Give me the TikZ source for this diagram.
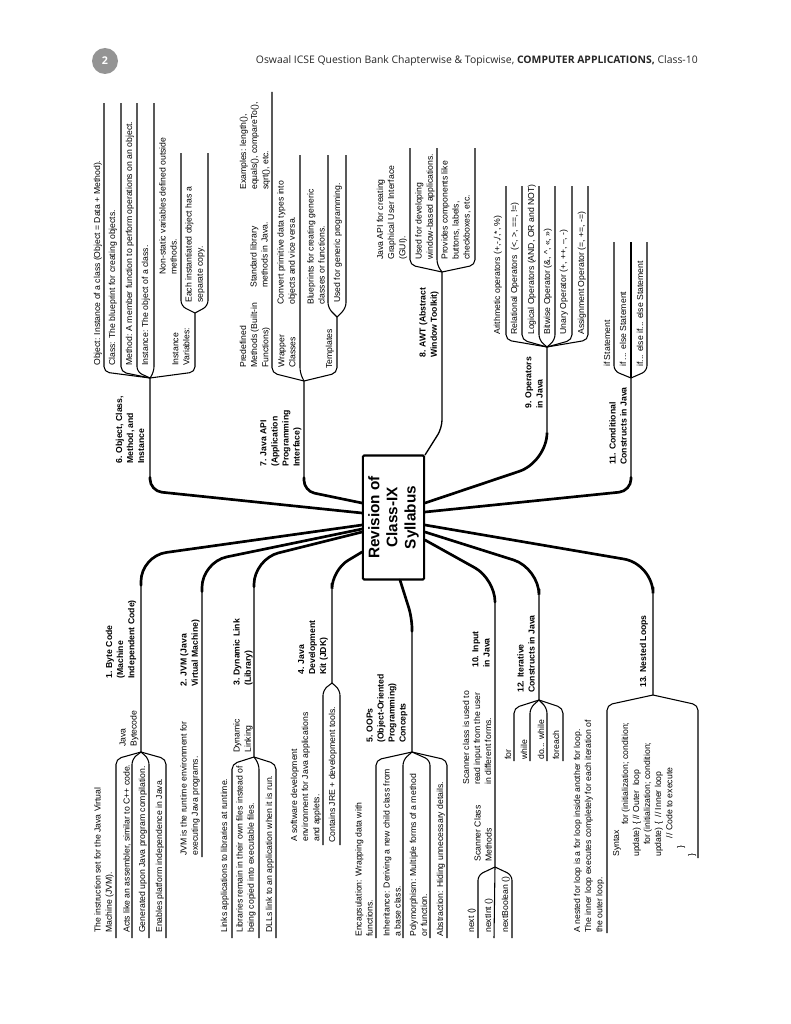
\documentclass[tikz,border=0pt]{standalone}
\usepackage{fontspec}
\setmainfont{Liberation Sans}
\newfontfamily\pagefont{Open Sans}
\usetikzlibrary{calc}

\tikzset{
  leaf/.style={rotate=90, anchor=west, inner sep=0pt, align=left, font=\fontsize{6.5}{8.3}\selectfont},
  title/.style={leaf, font=\fontsize{6.5}{8.3}\selectfont\bfseries},
  rootbox/.style={draw, rotate=90, line width=1.6pt, rounded corners=1pt, align=center, inner sep=0pt,
    minimum width=93pt, minimum height=46pt, font=\fontsize{11.5}{13.6}\selectfont\bfseries},
  arm/.style={line width=0.8pt, rounded corners=4pt},
  stem/.style={line width=1pt},
  stemthick/.style={line width=2pt, line cap=round}
}

\begin{document}
\begin{tikzpicture}[x=0.75pt, y=-0.75pt]
  \useasboundingbox (0,0) rectangle (791,1024);
  % Cabecera
  \node[circle, fill=black!42, minimum size=19.5pt, inner sep=0pt, text=white, font=\pagefont\fontsize{8}{10}\selectfont\bfseries] (pageno) at (105,61) {2};
  \node[anchor=east, inner sep=0pt, text=black!85, font=\pagefont\fontsize{7.8}{10}\selectfont] (header) at (698,61)
    {Oswaal ICSE Question Bank Chapterwise \& Topicwise, \textbf{COMPUTER APPLICATIONS,} Class-10};

  % Raiz
  \node[rootbox] (root) at (393.5,517.5) {Revision of\\Class-IX\\Syllabus};

  % 6 Object
  \coordinate (r6) at (362,513); \coordinate (c6) at (150,491); \coordinate (f6) at (150,378); \coordinate (b6) at (150,372);
  \draw[stem, rounded corners=9pt] (r6) -- (c6) -- (f6);
  \draw[stemthick, rounded corners=9pt] (r6) -- (c6) -- ($(c6)!0.12!(f6)$);
  \coordinate (e61) at (104,103); \coordinate (e62) at (121,103); \coordinate (e63) at (137,103);
  \coordinate (e64) at (154,103); \coordinate (e65) at (195,313);
  \draw[arm] (f6) -- (e61 |- b6) -- (e61);
  \draw[arm] (f6) -- (e62 |- b6) -- (e62);
  \draw[arm] (f6) -- (e63 |- b6) -- (e63);
  \draw[arm] (f6) -- (e64 |- b6) -- (e64);
  \draw[arm] (f6) -- (e65 |- b6) -- (e65);
  \coordinate (b66) at (195,306); \coordinate (e66) at (181,153); \coordinate (e67) at (208,153);
  \draw[arm] (e65) -- (e66 |- b66) -- (e66);
  \draw[arm] (e65) -- (e67 |- b66) -- (e67);
  \node[title] (n6) at (130,464) {6. Object, Class,\\Method, and\\Instance};
  \node[leaf] (n61) at (98,366) {Object: Instance of a class (Object = Data + Method).};
  \node[leaf] (n62) at (113,366) {Class: The blueprint for creating objects.};
  \node[leaf] (n63) at (130,366) {Method: A member function to perform operations on an object.};
  \node[leaf] (n64) at (146,366) {Instance: The object of a class.};
  \node[leaf] (n65) at (181,366) {Instance\\Variables:};
  \node[leaf] (n66) at (168,275) {Non-static variables defined outside\\methods.};
  \node[leaf] (n67) at (195,303) {Each instantiated object has a\\separate copy.};

  % 7 Java API
  \coordinate (r7) at (362,503); \coordinate (c7) at (304,491); \coordinate (f7) at (304,381); \coordinate (b7) at (304,373);
  \draw[stem, rounded corners=8pt] (r7) -- (c7) -- (f7);
  \draw[stemthick, rounded corners=8pt] (r7) -- (c7) -- ($(c7)!0.12!(f7)$);
  \coordinate (e71) at (272,92); \coordinate (e72) at (300,155); \coordinate (e73) at (337,317);
  \draw[arm] (f7) -- (e71 |- b7) -- (e71);
  \draw[arm] (f7) -- (e72 |- b7) -- (e72);
  \draw[arm] (f7) -- (e73 |- b7) -- (e73);
  \coordinate (b74) at (337,308); \coordinate (e74) at (328,155); \coordinate (e75) at (346,155);
  \draw[arm] (e73) -- (e74 |- b74) -- (e74);
  \draw[arm] (e73) -- (e75 |- b74) -- (e75);
  \node[title] (n7) at (281,467) {7. Java API\\(Application\\Programming\\Interface)};
  \node[leaf] (n71) at (255,368) {Predefined\\Methods (Built-in\\Functions)};
  \node[leaf] (n72) at (259,288) {Standard library\\methods in Java.};
  \node[leaf] (n73) at (255,190) {Examples: length(),\\equals(), compareTo(),\\sqrt(), etc.};
  \node[leaf] (n74) at (287,368) {Wrapper\\Classes};
  \node[leaf] (n75) at (287,305) {Convert primitive data types into\\objects and vice versa.};
  \node[leaf] (n76) at (330,369) {Templates};
  \node[leaf] (n77) at (316,305) {Blueprints for creating generic\\classes or functions.};
  \node[leaf] (n78) at (338,303) {Used for generic programming.};

  % 8 AWT
  \coordinate (r8) at (425,455); \coordinate (c8) at (442,428); \coordinate (f8) at (442,272); \coordinate (b8) at (442,265);
  \draw[stem, rounded corners=6pt] (r8) -- (c8) -- (f8);
  \coordinate (e81) at (410,148); \coordinate (e82) at (437,148); \coordinate (e83) at (475,148);
  \draw[arm] (f8) -- (e81 |- b8) -- (e81);
  \draw[arm] (f8) -- (e82 |- b8) -- (e82);
  \draw[arm] (f8) -- (e83 |- b8) -- (e83);
  \node[title] (n8) at (429,358) {8. AWT (Abstract\\Window Toolkit)};
  \node[leaf] (n81) at (392,260) {Java API for creating\\Graphical User Interface\\(GUI).};
  \node[leaf] (n82) at (425,260) {Used for developing\\window-based applications.};
  \node[leaf] (n83) at (456,260) {Provides components like\\buttons, labels,\\checkboxes, etc.};

  % 9 Operators
  \coordinate (r9) at (425,503); \coordinate (c9) at (547,462); \coordinate (f9) at (547,347); \coordinate (b9) at (547,340);
  \draw[stem, rounded corners=22pt] (r9) -- (c9) -- (f9);
  \draw[stemthick, rounded corners=22pt] (r9) -- (c9) -- ($(c9)!0.25!(f9)$);
  \coordinate (e91) at (506,186); \coordinate (e92) at (522,186); \coordinate (e93) at (539,186);
  \coordinate (e94) at (555,186); \coordinate (e95) at (572,186); \coordinate (e96) at (588,186);
  \draw[arm] (f9) -- (e91 |- b9) -- (e91);
  \draw[arm] (f9) -- (e92 |- b9) -- (e92);
  \draw[arm] (f9) -- (e93 |- b9) -- (e93);
  \draw[arm] (f9) -- (e94 |- b9) -- (e94);
  \draw[arm] (f9) -- (e95 |- b9) -- (e95);
  \draw[arm] (f9) -- (e96 |- b9) -- (e96);
  \node[title] (n9) at (534,409) {9. Operators\\in Java};
  \node[leaf] (n91) at (498,335) {Arithmetic operators (+,-,/,*, \%)};
  \node[leaf] (n92) at (515,335) {Relational Operators \ (<, >, ==, !=)};
  \node[leaf] (n93) at (532,335) {Logical Operators (AND, OR and NOT)};
  \node[leaf] (n94) at (548,335) {Bitwise Operator (\&, \textasciicircum, <<, >>)};
  \node[leaf] (n95) at (564,335) {Unary Operator (+, ++, --, -)};
  \node[leaf] (n96) at (582,335) {Assignment Operator (=, +=, -=)};

  % 11 Conditional
  \coordinate (r11) at (425,512); \coordinate (c11) at (631,491); \coordinate (f11) at (631,378); \coordinate (b11) at (631,371);
  \draw[stem, rounded corners=9pt] (r11) -- (c11) -- (f11);
  \draw[stemthick, rounded corners=9pt] (r11) -- (c11) -- ($(c11)!0.12!(f11)$);
  \coordinate (e111) at (614,242); \coordinate (e112) at (631,242); \coordinate (e113) at (647,242);
  \draw[arm] (f11) -- (e111 |- b11) -- (e111);
  \draw[arm] (f11) -- (e112);
  \draw[arm] (f11) -- (e113 |- b11) -- (e113);
  \node[title] (n11) at (618,465) {11. Conditional\\Constructs in Java};
  \node[leaf] (n111) at (607,367) {if Statement};
  \node[leaf] (n112) at (623,367) {if ... else Statement};
  \node[leaf] (n113) at (640,367) {if... else if... else Statement};

  % 1 Byte Code
  \coordinate (r1) at (362,525); \coordinate (c1) at (141,556); \coordinate (f1) at (141,752); \coordinate (b1) at (141,759);
  \draw[stem, rounded corners=19pt] (r1) -- (c1) -- (f1);
  \draw[stemthick, rounded corners=19pt] (r1) -- (c1) -- ($(c1)!0.15!(f1)$);
  \coordinate (e11) at (116,938); \coordinate (e12) at (132,938); \coordinate (e13) at (149,938); \coordinate (e14) at (166,938);
  \draw[arm] (f1) -- (e11 |- b1) -- (e11);
  \draw[arm] (f1) -- (e12 |- b1) -- (e12);
  \draw[arm] (f1) -- (e13 |- b1) -- (e13);
  \draw[arm] (f1) -- (e14 |- b1) -- (e14);
  \node[title] (n1) at (121,679) {1. Byte Code\\(Machine\\Independent Code)};
  \node[leaf] (n1a) at (129,747) {Java\\Bytecode};
  \node[leaf] (n1b) at (104,933) {The instruction set for the Java Virtual\\Machine (JVM).};
  \node[leaf] (n1c) at (127,933) {Acts like an assembler, similar to C++ code.};
  \node[leaf] (n1d) at (143,933) {Generated upon Java program compilation.};
  \node[leaf] (n1e) at (160,933) {Enables platform independence in Java.};

  % 2 JVM
  \coordinate (r2) at (362,529); \coordinate (c2) at (202,562); \coordinate (e2) at (202,857);
  \draw[stem, rounded corners=19pt] (r2) -- (c2) -- (e2);
  \draw[stemthick, rounded corners=19pt] (r2) -- (c2) -- ($(c2)!0.1!(e2)$);
  \node[title] (n2) at (190,687) {2. JVM (Java\\Virtual Machine)};
  \node[leaf] (n2a) at (190,856) {JVM is the runtime environment for\\executing Java programs.};

  % 3 Dynamic Link
  \coordinate (r3) at (362,532); \coordinate (c3) at (254,559); \coordinate (f3) at (254,757); \coordinate (b3) at (254,764);
  \draw[stem, rounded corners=19pt] (r3) -- (c3) -- (f3);
  \draw[stemthick, rounded corners=19pt] (r3) -- (c3) -- ($(c3)!0.14!(f3)$);
  \coordinate (e31) at (232,938); \coordinate (e32) at (259,938); \coordinate (e33) at (276,938);
  \draw[arm] (f3) -- (e31 |- b3) -- (e31);
  \draw[arm] (f3) -- (e32 |- b3) -- (e32);
  \draw[arm] (f3) -- (e33 |- b3) -- (e33);
  \node[title] (n3) at (243,686) {3. Dynamic Link\\(Library)};
  \node[leaf] (n3a) at (243,753) {Dynamic\\Linking};
  \node[leaf] (n3b) at (225,933) {Links applications to libraries at runtime.};
  \node[leaf] (n3c) at (246,933) {Libraries remain in their own files instead of\\being copied into executable files.};
  \node[leaf] (n3d) at (270,933) {DLLs link to an application when it is run.};

  % 4 JDK
  \coordinate (r4) at (362,552); \coordinate (c4) at (332,570); \coordinate (f4) at (332,683); \coordinate (b4) at (332,690);
  \draw[stem, rounded corners=14pt] (r4) -- (c4) -- (f4);
  \draw[stemthick, rounded corners=14pt] (r4) -- (c4) -- ($(c4)!0.12!(f4)$);
  \coordinate (e41) at (323,845); \coordinate (e42) at (340,845);
  \draw[arm] (f4) -- (e41 |- b4) -- (e41);
  \draw[arm] (f4) -- (e42 |- b4) -- (e42);
  \node[title] (n4) at (313,675) {4. Java\\Development\\Kit (JDK)};
  \node[leaf] (n4a) at (306,842) {A software development\\environment for Java applications\\and applets.};
  \node[leaf] (n4b) at (333,843) {Contains JRE + development tools.};

  % 5 OOPs
  \coordinate (r5) at (400,580); \coordinate (c5) at (412,618); \coordinate (f5) at (412,752); \coordinate (b5) at (412,760);
  \draw[stem, rounded corners=8pt] (r5) -- (c5) -- (f5);
  \draw[stemthick, rounded corners=8pt] (r5) -- (c5) -- ($(c5)!0.1!(f5)$);
  \coordinate (e51) at (376,938); \coordinate (e52) at (403,938); \coordinate (e53) at (430,938); \coordinate (e54) at (447,938);
  \draw[arm] (f5) -- (e51 |- b5) -- (e51);
  \draw[arm] (f5) -- (e52 |- b5) -- (e52);
  \draw[arm] (f5) -- (e53 |- b5) -- (e53);
  \draw[arm] (f5) -- (e54 |- b5) -- (e54);
  \node[title] (n5) at (387,743) {5. OOPs\\(Object-Oriented\\Programming)\\Concepts};
  \node[leaf] (n5a) at (364,937) {Encapsulation: Wrapping data with\\functions.};
  \node[leaf] (n5b) at (392,937) {Inheritance: Deriving a new child class from\\a base class.};
  \node[leaf] (n5c) at (418.5,937) {Polymorphism: Multiple forms of a method\\or function.};
  \node[leaf] (n5d) at (441,937) {Abstraction: Hiding unnecessary details.};

  % 10 Input
  \coordinate (r10) at (425,540); \coordinate (c10) at (495,579); \coordinate (f10) at (495,867); \coordinate (b10) at (495,875);
  \draw[stem, rounded corners=17pt] (r10) -- (c10) -- (f10);
  \draw[stemthick, rounded corners=17pt] (r10) -- (c10) -- ($(c10)!0.08!(f10)$);
  \coordinate (e101) at (478,938); \coordinate (e102) at (494,938); \coordinate (e103) at (512,938);
  \draw[arm] (f10) -- (e101 |- b10) -- (e101);
  \draw[arm] (f10) -- (e102);
  \draw[arm] (f10) -- (e103 |- b10) -- (e103);
  \node[title] (n10) at (481,668) {10. Input\\in Java};
  \node[leaf] (n10a) at (477,785) {Scanner class is used to\\read input from the user\\in different forms.};
  \node[leaf] (n10b) at (483,862) {Scanner Class\\Methods};
  \node[leaf] (n10c) at (472,933) {next ()};
  \node[leaf] (n10d) at (489,933) {nextInt ()};
  \node[leaf] (n10e) at (506,933) {nextBoolean ()};

  % 12 Iterative
  \coordinate (r12) at (425,532); \coordinate (c12) at (539,568); \coordinate (f12) at (539,700); \coordinate (b12) at (539,708);
  \draw[stem, rounded corners=20pt] (r12) -- (c12) -- (f12);
  \draw[stemthick, rounded corners=20pt] (r12) -- (c12) -- ($(c12)!0.16!(f12)$);
  \coordinate (e121) at (514,761); \coordinate (e122) at (530,761); \coordinate (e123) at (547,761); \coordinate (e124) at (563,761);
  \draw[arm] (f12) -- (e121 |- b12) -- (e121);
  \draw[arm] (f12) -- (e122 |- b12) -- (e122);
  \draw[arm] (f12) -- (e123 |- b12) -- (e123);
  \draw[arm] (f12) -- (e124 |- b12) -- (e124);
  \node[title] (n12) at (526,693) {12. Iterative\\Constructs in Java};
  \node[leaf] (n12a) at (508,760) {for};
  \node[leaf] (n12b) at (524,760) {while};
  \node[leaf] (n12c) at (541,760) {do... while};
  \node[leaf] (n12d) at (556,760) {foreach};

  % 13 Nested
  \coordinate (r13) at (425,525); \coordinate (c13) at (653,564); \coordinate (f13) at (653,695); \coordinate (b13) at (653,705);
  \draw[stem, rounded corners=22pt] (r13) -- (c13) -- (f13);
  \draw[stemthick, rounded corners=22pt] (r13) -- (c13) -- ($(c13)!0.18!(f13)$);
  \coordinate (e131) at (607,933); \coordinate (e132) at (698,858);
  \draw[arm] (f13) -- (e131 |- b13) -- (e131);
  \draw[arm] (f13) -- (e132 |- b13) -- (e132);
  \node[title] (n13) at (644,688) {13. Nested Loops};
  \node[leaf] (n13a) at (589,933) {A nested for loop is a for loop inside another for loop.\\The inner loop executes completely for each iteration of\\the outer loop.};
  \node[leaf] (n13b) at (617,857) {Syntax};
  \node[leaf] (n13c) at (659,857) {\hspace*{24pt}for (initialization; condition;\\
    update) \{ // Outer \ loop\\
    \hspace*{9pt}for (initialization; condition;\\
    update) \{ \ // Inner loop\\
    \hspace*{14pt}// Code to execute\\
    \hspace*{6pt}\}\\
    \}};
\end{tikzpicture}
\end{document}
